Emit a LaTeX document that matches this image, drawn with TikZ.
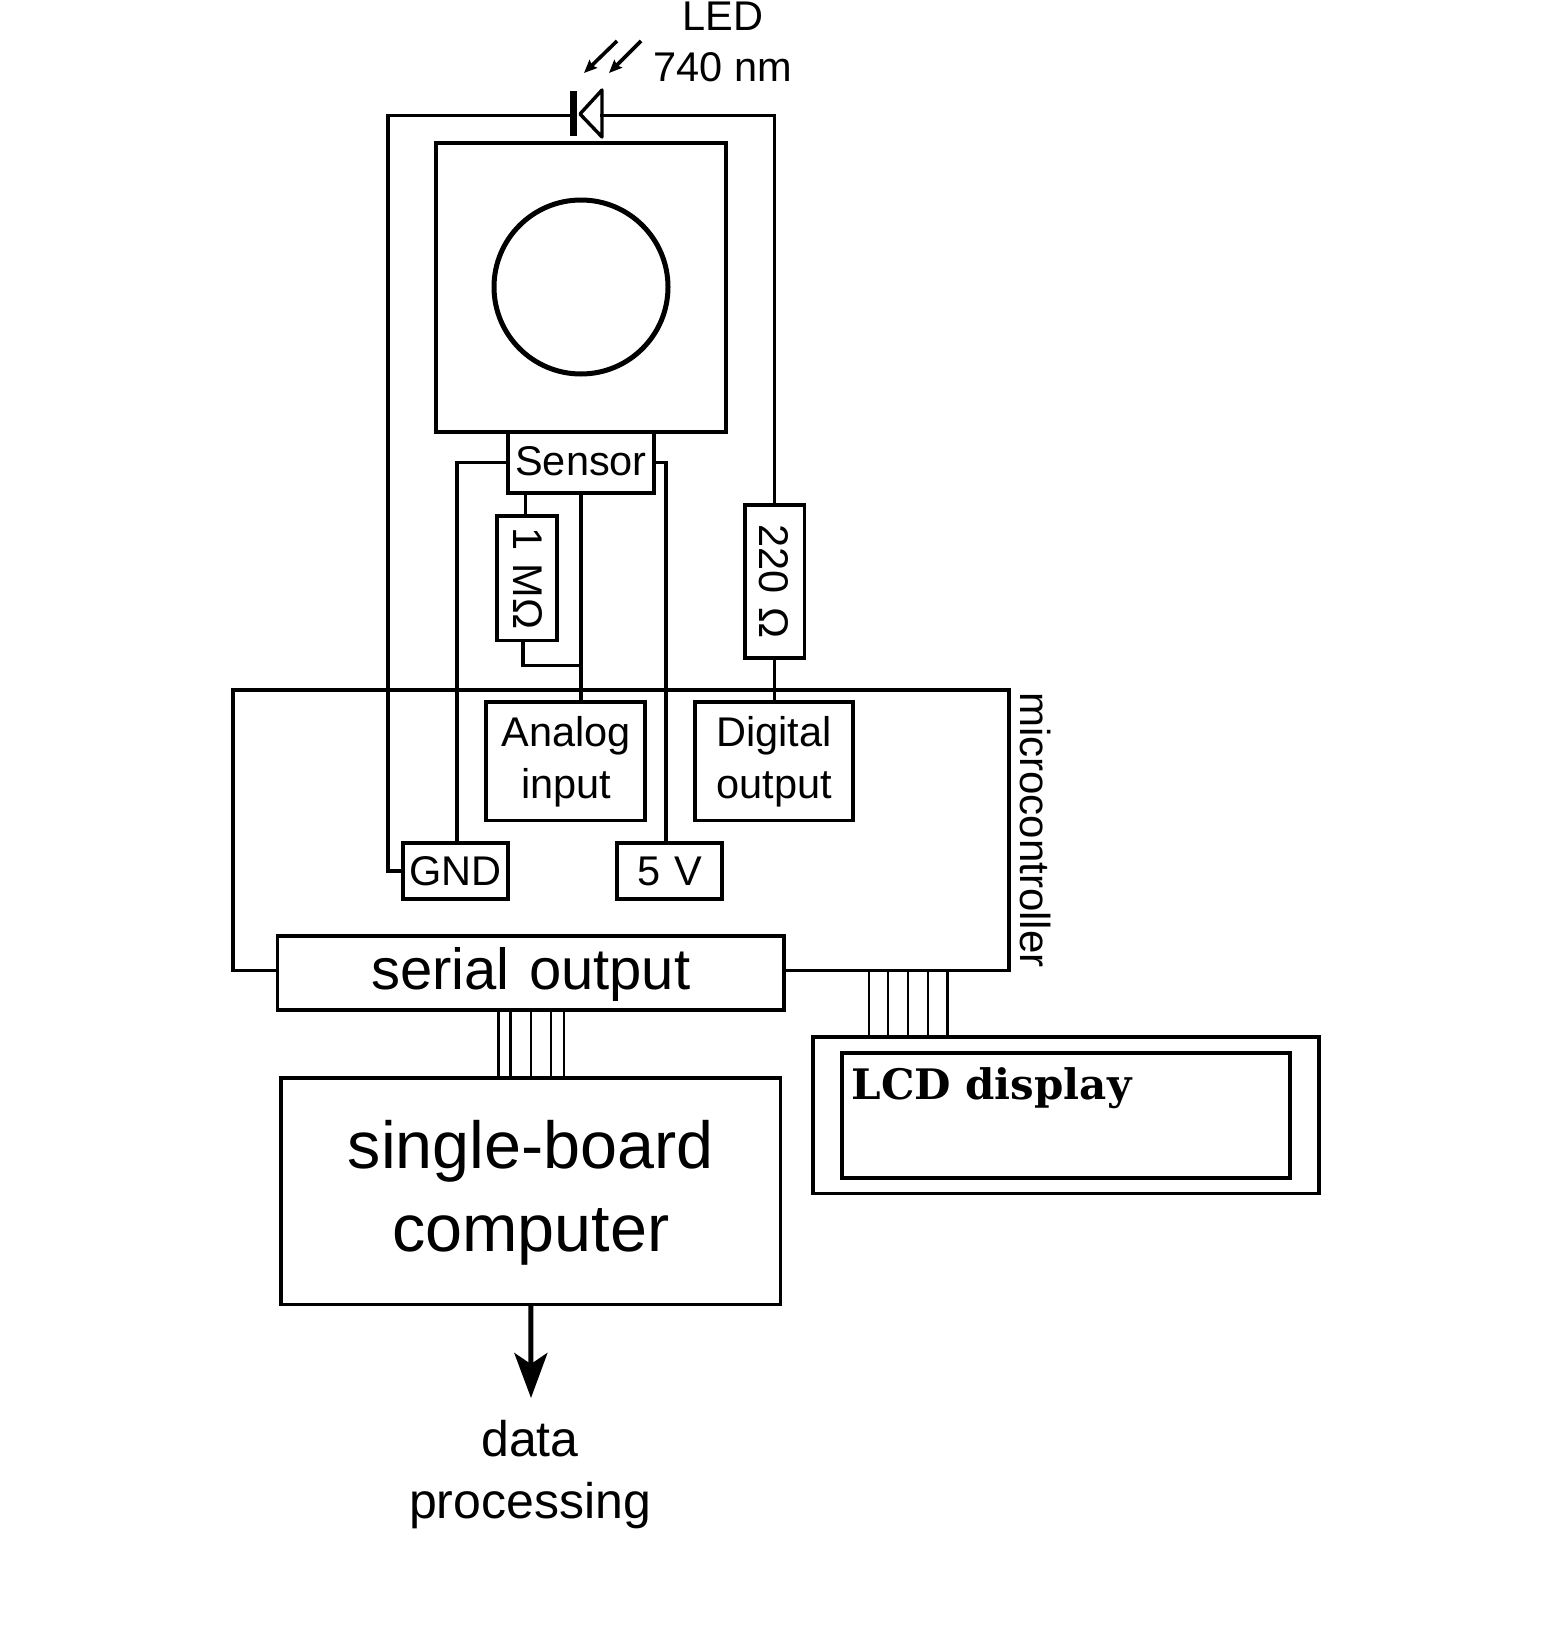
\documentclass[tikz,border=0pt]{standalone}
\usepackage{fontspec}
\setmainfont{Liberation Sans}
\newfontfamily\slabfont{DejaVu Serif}
\usetikzlibrary{arrows.meta,calc}
\newcommand{\txtA}{\fontsize{41.5}{52.5}\selectfont}
\tikzset{
  wire/.style={line width=3.2pt, line cap=rect, line join=miter},
  thinwire/.style={line width=2.8pt},
  box/.style={draw, line width=3.2pt, inner sep=0pt, outer sep=0pt, align=center, fill=white},
  plainbox/.style={draw, line width=3.2pt, inner sep=0pt, outer sep=0pt},
  lab/.style={inner sep=0pt, outer sep=0pt, align=center},
  ray/.style={line width=3.6pt, -{Stealth[length=13pt,width=11pt,inset=2pt]}},
}
\begin{document}
\begin{tikzpicture}[x=1pt,y=-1pt]
\useasboundingbox (0,0) rectangle (1552,1651);

% microcontroller frame (serial output sits on its lower edge)
\node[plainbox, minimum width=776pt, minimum height=280.5pt] (micro) at (621,830.25) {};
\node[lab, rotate=-90, font=\fontsize{42}{50}\selectfont, anchor=base] (microlab) at (1020,830) {microcontroller};

% cuvette holder and sensor
\node[plainbox, minimum width=290pt, minimum height=289pt] (holder) at (581,287.5) {};
\node[circle, draw, line width=5pt, inner sep=0pt, outer sep=0pt, minimum size=174pt] (cuvette) at (581,287) {};
\node[box, text width=146pt, text height=43pt, text depth=18pt, font=\txtA] (sensor) at (581,462.5) {Sensor};

% resistors
\node[box, rotate=-90, text width=124.6pt, text height=44pt, text depth=16pt, font=\txtA] (rone) at (527,578.3) {1 MΩ};
\node[box, rotate=-90, text width=153pt, text height=45.5pt, text depth=14pt, font=\txtA] (rtwo) at (774.75,581.5) {220 Ω};

% microcontroller ports
\node[box, text width=159pt, text height=44pt, text depth=74.5pt, font=\txtA] (analog) at (565.5,761.25) {\hspace*{1.5pt}Analog\\\hspace*{1.5pt}input};
\node[box, text width=158pt, text height=44pt, text depth=74.5pt, font=\txtA] (digital) at (774,761.25) {Digital\\output};
\node[box, text width=105pt, text height=42pt, text depth=14pt, font=\txtA] (gnd) at (455.5,871) {GND};
\node[box, text width=105pt, text height=42pt, text depth=14pt, font=\txtA] (five) at (669.5,871) {5 V};
\node[box, text width=506.5pt, text height=53.2pt, text depth=20.8pt, font=\fontsize{58}{62}\selectfont] (serial) at (530.75,973) {serial output};

% single-board computer
\node[box, text width=499.5pt, text height=90pt, text depth=136.6pt, font=\fontsize{66.5}{83}\selectfont] (computer) at (530.75,1191.3) {single-board\\computer};

% LCD
\node[plainbox, minimum width=506pt, minimum height=156.5pt] (lcdouter) at (1066,1115.25) {};
\node[plainbox, minimum width=448pt, minimum height=125pt] (lcdinner) at (1066,1115.5) {};
\node[lab, anchor=base west, font=\slabfont\bfseries\fontsize{42}{44}\selectfont] (lcdlab) at (851.6,1099) {LCD display};

% LED symbol
\node[fill=black, inner sep=0pt, outer sep=0pt, minimum width=7pt, minimum height=45pt] (ledbar) at (573.5,113.5) {};
\coordinate (ledbase) at (602,115.5);
\draw[line width=3.4pt, line join=round] (602,90) -- (580,114) -- (602,137) -- cycle;
\coordinate (rayAs) at (617,41);
\coordinate (rayAe) at (584,73);
\coordinate (rayBs) at (641,41);
\coordinate (rayBe) at (609,73);
\draw[ray] (rayAs) -- (rayAe);
\draw[ray] (rayBs) -- (rayBe);
\node[lab, font=\txtA, anchor=base] (ledtext) at (723,30.5) {LED};
\node[lab, font=\txtA, anchor=base] (nm) at (723,82) {740 nm};

% wiring
\draw[wire] (gnd.west) -| (388,115.5) -- (ledbar.west |- ledbase);
\draw[wire] (ledbase) -| (rtwo.west);
\draw[wire] (rtwo.east) -- (rtwo.east |- digital.north);
\draw[wire] (sensor.west) -| ([xshift=1.5pt]gnd.north);
\draw[wire] (sensor.east) -| ([xshift=-3.5pt]five.north);
\draw[wire] (sensor.south) -- (sensor.south |- analog.north);
\draw[wire] ([xshift=-1.5pt]rone.west) -- ([xshift=-1.5pt]rone.west |- sensor.south);
\coordinate (junction) at (581,665.5);
\draw[wire] ([xshift=-4pt]rone.east) |- (junction);

% data buses
\foreach \x in {498.7,510.5,531,551,564}
  \draw[thinwire] (\x,0 |- serial.south) -- (\x,0 |- computer.north);
\foreach \x in {869,888,908,928,947.4}
  \draw[thinwire] (\x,0 |- micro.south) -- (\x,0 |- lcdouter.north);

% output arrow
\coordinate (tip) at (531,1398);
\draw[line width=5pt, -{Stealth[length=45pt,width=33pt,inset=11pt]}] (computer.south) -- (tip);
\node[lab, font=\fontsize{50}{62}\selectfont, anchor=base] (datalab) at (530,1456) {data};
\node[lab, font=\fontsize{50}{62}\selectfont, anchor=base] (proclab) at (530,1518) {processing};
\end{tikzpicture}
\end{document}
